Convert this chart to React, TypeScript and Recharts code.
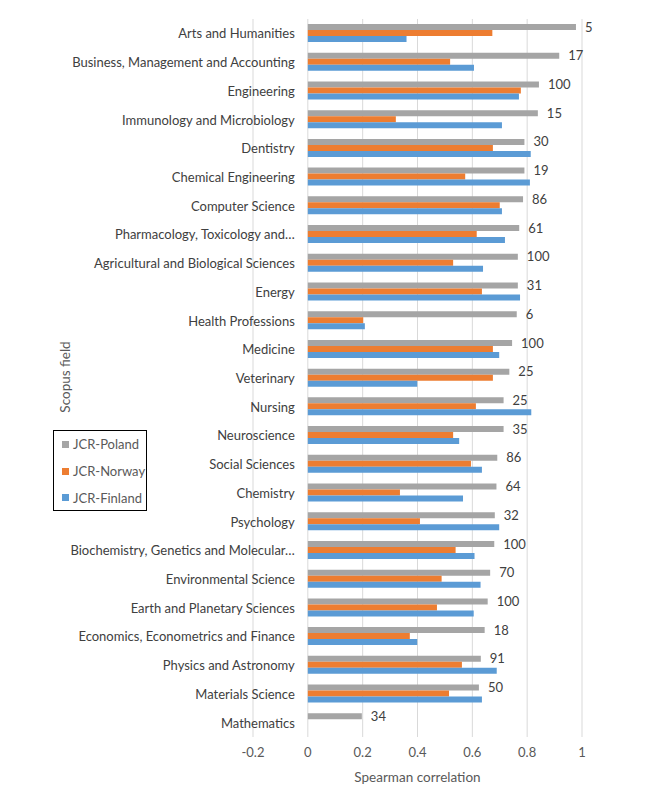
import React from 'react';
import {
  BarChart,
  Bar,
  XAxis,
  YAxis,
  CartesianGrid,
  LabelList
} from 'recharts';

const categories = [
  'Arts and Humanities',
  'Business, Management and Accounting',
  'Engineering',
  'Immunology and Microbiology',
  'Dentistry',
  'Chemical Engineering',
  'Computer Science',
  'Pharmacology, Toxicology and…',
  'Agricultural and Biological Sciences',
  'Energy',
  'Health Professions',
  'Medicine',
  'Veterinary',
  'Nursing',
  'Neuroscience',
  'Social Sciences',
  'Chemistry',
  'Psychology',
  'Biochemistry, Genetics and Molecular…',
  'Environmental Science',
  'Earth and Planetary Sciences',
  'Economics, Econometrics and Finance',
  'Physics and Astronomy',
  'Materials Science',
  'Mathematics'
];

const poland = [0.978, 0.917, 0.843, 0.839, 0.79, 0.79, 0.785, 0.771, 0.766, 0.766, 0.762, 0.745, 0.735, 0.714, 0.714, 0.691, 0.688, 0.682, 0.68, 0.665, 0.656, 0.645, 0.631, 0.624, 0.197];
const norway = [0.673, 0.519, 0.777, 0.321, 0.675, 0.574, 0.7, 0.616, 0.53, 0.635, 0.202, 0.675, 0.675, 0.613, 0.53, 0.595, 0.336, 0.409, 0.539, 0.488, 0.471, 0.372, 0.562, 0.515, null];
const finland = [0.36, 0.606, 0.77, 0.708, 0.813, 0.81, 0.708, 0.719, 0.639, 0.774, 0.208, 0.698, 0.399, 0.815, 0.552, 0.635, 0.566, 0.698, 0.608, 0.63, 0.605, 0.399, 0.689, 0.635, null];
const counts = [5, 17, 100, 15, 30, 19, 86, 61, 100, 31, 6, 100, 25, 25, 35, 86, 64, 32, 100, 70, 100, 18, 91, 50, 34];

const xTicks = [-0.2, 0, 0.2, 0.4, 0.6, 0.8, 1];

const series = [
  { key: 'poland', name: 'JCR-Poland', color: '#a5a5a5' },
  { key: 'norway', name: 'JCR-Norway', color: '#ed7d31' },
  { key: 'finland', name: 'JCR-Finland', color: '#5b9bd5' }
];

const data = categories.map((name, i) => ({
  name,
  poland: poland[i],
  norway: norway[i],
  finland: finland[i],
  n: counts[i]
}));

const FONT = 'Lato, "Open Sans", sans-serif';
const W = 634;
const H = 781;
const Y_AXIS_W = 245;
const PLOT_W = 329;
// x position of value 0, where the category labels hang off
const ZERO_X = Y_AXIS_W + (PLOT_W * 0.2) / 1.2;

const CategoryTick = ({ y, payload }: any) => (
  <text
    x={ZERO_X - 13}
    y={y}
    textAnchor="end"
    dominantBaseline="central"
    fill="#404040"
    fontSize={13}
    fontFamily={FONT}
  >
    {payload.value}
  </text>
);

export default function App() {
  return (
    <div style={{ position: 'relative', width: W, height: H, fontFamily: FONT }}>
      <style>{'html,body{overflow:hidden}'}</style>
      <BarChart
        width={W}
        height={H}
        data={data}
        layout="vertical"
        margin={{ top: 11, right: W - Y_AXIS_W - PLOT_W, left: 0, bottom: 22 }}
        barGap={0}
        barSize={6}
      >
        <CartesianGrid horizontal={false} stroke="#d9d9d9" />
        <XAxis
          type="number"
          domain={[-0.2, 1]}
          ticks={xTicks}
          height={30}
          axisLine={false}
          tickLine={false}
          tickSize={0}
          tickMargin={11}
          tick={{ fill: '#595959', fontSize: 13, fontFamily: FONT }}
          tickFormatter={(v) => String(v)}
        />
        <YAxis
          type="category"
          dataKey="name"
          width={Y_AXIS_W}
          interval={0}
          axisLine={false}
          tickLine={false}
          tick={<CategoryTick />}
        />
        {series.map((s) => (
          <Bar key={s.key} dataKey={s.key} name={s.name} fill={s.color} isAnimationActive={false}>
            {s.key === 'poland' && (
              <LabelList
                dataKey="n"
                position="right"
                offset={9}
                fill="#404040"
                fontSize={13}
                fontFamily={FONT}
              />
            )}
          </Bar>
        ))}
      </BarChart>

      {/* legend box */}
      <div
        style={{
          position: 'absolute',
          left: 45,
          top: 422,
          width: 94,
          height: 81,
          border: '1px solid #000',
          boxSizing: 'border-box',
          padding: '0 0 0 8px',
          background: '#fff'
        }}
      >
        {series.map((s) => (
          <div key={s.key} style={{ display: 'flex', alignItems: 'center', height: 26.7 }}>
            <span style={{ width: 7, height: 7, background: s.color, marginRight: 4 }} />
            <span style={{ fontSize: 13, color: '#595959' }}>{s.name}</span>
          </div>
        ))}
      </div>

      <div
        style={{
          position: 'absolute',
          left: 57,
          top: 369,
          transform: 'translate(-50%, -50%) rotate(-90deg)',
          fontSize: 13.5,
          lineHeight: '16px',
          color: '#595959',
          whiteSpace: 'nowrap'
        }}
      >
        Scopus field
      </div>
      <div
        style={{
          position: 'absolute',
          left: Y_AXIS_W + PLOT_W / 2,
          top: 761,
          transform: 'translateX(-50%)',
          fontSize: 13.5,
          lineHeight: '16px',
          color: '#595959',
          whiteSpace: 'nowrap'
        }}
      >
        Spearman correlation
      </div>
    </div>
  );
}
